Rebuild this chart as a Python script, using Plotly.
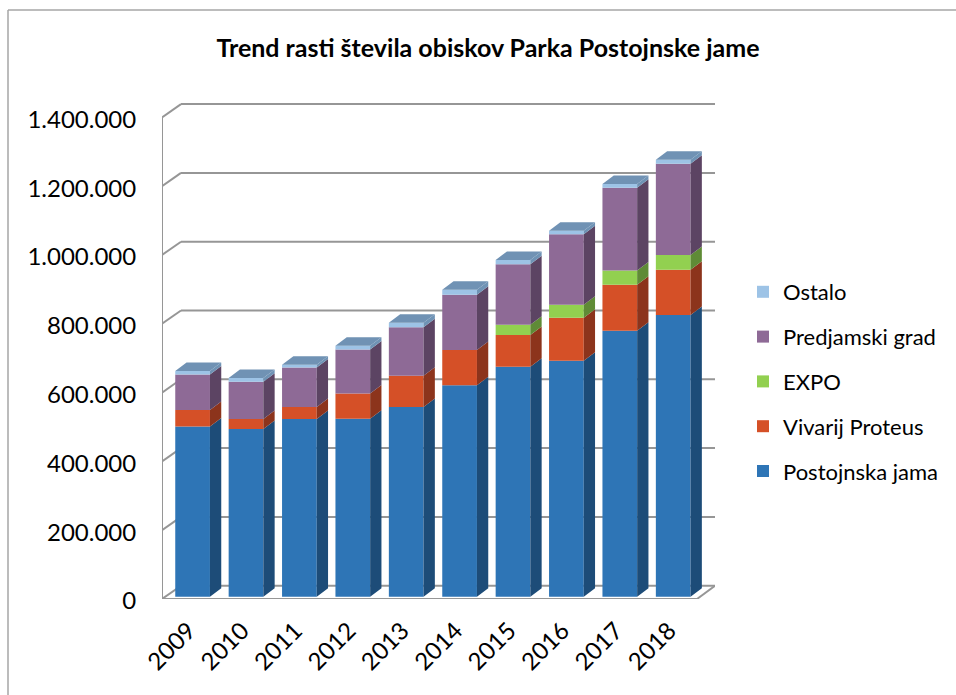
import plotly.graph_objects as go

YEARS = ["2009", "2010", "2011", "2012", "2013", "2014", "2015", "2016", "2017", "2018"]
POSTOJNSKA = [495000, 487500, 516500, 517500, 551500, 614500, 668500, 686000, 773000, 819000]
VIVARIJ = [48000, 29000, 35000, 73000, 91000, 103000, 92000, 125000, 134000, 131500]
EXPO = [0, 0, 0, 0, 0, 0, 30000, 38000, 41000, 43000]
PREDJAMA = [103000, 108000, 115000, 128000, 141000, 160000, 176000, 204500, 241000, 265000]
OSTALO = [10000, 11000, 8000, 11000, 13000, 15000, 12500, 10500, 11000, 11500]
TICK_VALUES = [0, 200000, 400000, 600000, 800000, 1000000, 1200000, 1400000]
TICK_LABELS = ["0", "200.000", "400.000", "600.000", "800.000", "1.000.000", "1.200.000", "1.400.000"]

SERIES = [
    ("Postojnska jama", POSTOJNSKA, "#2E75B6", "#1D4C78"),
    ("Vivarij Proteus", VIVARIJ, "#D55027", "#8C341C"),
    ("EXPO", EXPO, "#92D050", "#5F8B36"),
    ("Predjamski grad", PREDJAMA, "#8E6A96", "#5C4463"),
    ("Ostalo", OSTALO, "#9DC3E6", "#6F93B5"),
]
TOP_FACE = "#7092B4"
GRID = "#969696"
FONT = "Lato"

# plot-area geometry
W, H = 956, 695
L, R, T, B = 162, 715, 100, 599
PX_PER_UNIT_Y = 68.8 / 200000
PX_PER_CAT = 53.4
X_FIRST_PX = 192.6
xrange = [(L - X_FIRST_PX) / PX_PER_CAT, (R - X_FIRST_PX) / PX_PER_CAT]
yrange = [0, (B - T) / PX_PER_UNIT_Y]

BAR_W = 34.7 / PX_PER_CAT
BAR_DX = 11.3 / PX_PER_CAT
BAR_DY = 8.5 / PX_PER_UNIT_Y
LIFT = 2.3 / PX_PER_UNIT_Y
WALL_DX = 19 / PX_PER_CAT
WALL_DY = 13.3 / PX_PER_UNIT_Y
FRONT_RIGHT = (697 - X_FIRST_PX) / PX_PER_CAT

fig = go.Figure()
idx = list(range(len(YEARS)))
cum = [LIFT] * len(YEARS)
for rank, (name, vals, col, side) in enumerate(SERIES):
    fig.add_trace(go.Bar(
        x=idx, y=vals, base=cum, width=BAR_W, name=name, legendgroup=name,
        legendrank=1000 - rank,
        marker=dict(color=col, line=dict(width=0)), hoverinfo="name+y"))
    sx, sy = [], []
    new = []
    for i, v in enumerate(vals):
        y0, y1 = cum[i], cum[i] + v
        new.append(y1)
        xr = i + BAR_W / 2
        if v > 0:
            sx += [xr, xr + BAR_DX, xr + BAR_DX, xr, None]
            sy += [y0, y0 + BAR_DY, y1 + BAR_DY, y1, None]
    fig.add_trace(go.Scatter(x=sx, y=sy, fill="toself", fillcolor=side, mode="lines",
                             line=dict(width=0), showlegend=False, hoverinfo="skip"))
    cum = new

tx, ty = [], []
for i, y in enumerate(cum):
    xl, xr = i - BAR_W / 2, i + BAR_W / 2
    tx += [xl, xr, xr + BAR_DX, xl + BAR_DX, None]
    ty += [y, y, y + BAR_DY, y + BAR_DY, None]
fig.add_trace(go.Scatter(x=tx, y=ty, fill="toself", fillcolor=TOP_FACE, mode="lines",
                         line=dict(width=0), showlegend=False, hoverinfo="skip"))

shapes = []
def seg(x0, y0, x1, y1):
    shapes.append(dict(type="line", xref="x", yref="y", x0=x0, y0=y0, x1=x1, y1=y1,
                       layer="below", line=dict(color=GRID, width=2)))
x_left, x_right = xrange
for v in TICK_VALUES:
    seg(x_left, v, x_left + WALL_DX, v + WALL_DY)
    seg(x_left + WALL_DX, v + WALL_DY, x_right, v + WALL_DY)
seg(x_left, 0, x_left, TICK_VALUES[-1])
seg(x_left, 0, FRONT_RIGHT, 0)
seg(FRONT_RIGHT, 0, x_right, WALL_DY)

def px(v): return (v - L) / (R - L)
def py(v): return (B - v) / (B - T)
for x0, y0, x1, y1 in [(8, 10, W, 10), (8, 10, 8, H)]:
    shapes.append(dict(type="line", xref="paper", yref="paper", x0=px(x0), y0=py(y0),
                       x1=px(x1), y1=py(y1), layer="below",
                       line=dict(color="#A6A6A6", width=1.5)))

fig.update_layout(
    width=W, height=H, autosize=False, barmode="overlay",
    margin=dict(l=L, r=W - R, t=T, b=H - B, pad=0),
    paper_bgcolor="white", plot_bgcolor="white",
    font=dict(family=FONT, color="#000000"),
    title=dict(text="<b>Trend rasti števila obiskov Parka Postojnske jame</b>",
               x=488 / W, xanchor="center", xref="container",
               y=1 - 48 / H, yanchor="middle", font=dict(family=FONT, size=25, color="#000000")),
    xaxis=dict(range=xrange, tickmode="array", tickvals=idx, ticktext=YEARS, tickangle=-45,
               showgrid=False, zeroline=False, showline=False, ticks="outside", ticklen=7,
               tickcolor="rgba(0,0,0,0)", tickfont=dict(size=24, family=FONT), ticklabelshift=-4),
    yaxis=dict(range=yrange, tickmode="array", tickvals=TICK_VALUES, ticktext=TICK_LABELS,
               showgrid=False, zeroline=False, showline=False, ticks="outside", ticklen=20,
               tickcolor="rgba(0,0,0,0)", tickfont=dict(size=24, family=FONT), ticklabelshift=2),
    legend=dict(x=px(743), xanchor="left", y=py(492), yanchor="bottom",
                traceorder="grouped", tracegroupgap=13.2,
                font=dict(size=22, family=FONT), bgcolor="rgba(0,0,0,0)"),
    shapes=shapes,
    showlegend=True,
)
POST = """
document.body.style.margin='0';document.body.style.overflow='hidden';
document.querySelectorAll('.legend .legendsymbols .layers').forEach(function(g){
  g.setAttribute('transform','translate(27,0) scale(1.17)');
});
"""
fig.write_html("out.html", config=dict(displayModeBar=False), post_script=POST)
